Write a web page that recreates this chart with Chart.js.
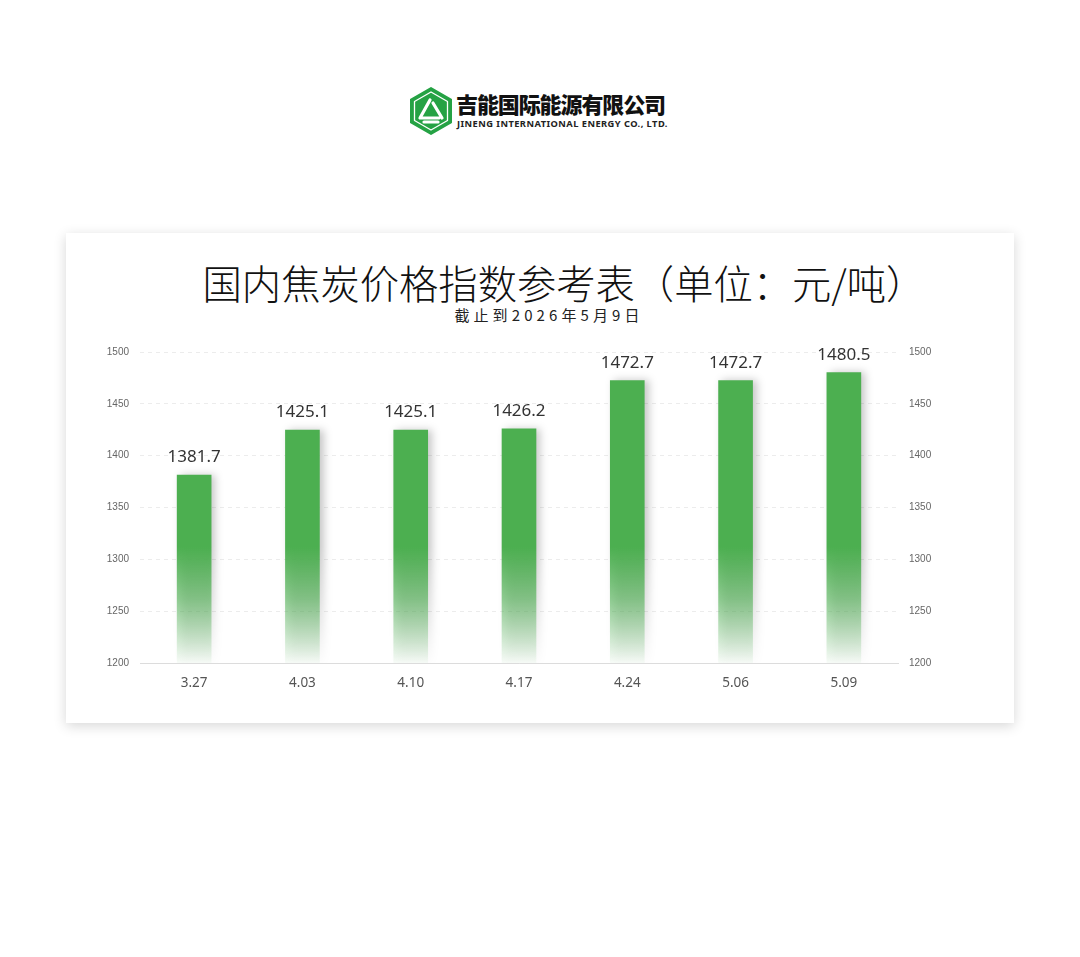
<!DOCTYPE html>
<html>
<head>
<meta charset="utf-8">
<script src="https://cdn.jsdelivr.net/npm/chart.js@4"></script>
<style>
  html, body { margin: 0; padding: 0; background: #fff; }
  body { width: 1080px; height: 957px; position: relative; overflow: hidden; font-family: "Noto Sans CJK SC", "Noto Sans", sans-serif; }
  .logo { position: absolute; left: 409px; top: 87px; width: 270px; height: 50px; }
  .logo svg { position: absolute; left: 0; top: 0; }
  .logo .cn { position: absolute; left: 47px; top: 3px; font-size: 22px; font-weight: 900; color: #111; letter-spacing: -1.1px; line-height: 26px; white-space: nowrap; }
  .logo .en { position: absolute; left: 48px; top: 29.5px; font-family: "Noto Sans", sans-serif; font-size: 9.3px; font-weight: 700; color: #222; letter-spacing: 0.45px; white-space: nowrap; }
  .card { position: absolute; left: 66px; top: 233px; width: 948px; height: 490px; background: #fff; box-shadow: 0 3px 12px rgba(0,0,0,0.16); }
  .title { position: absolute; left: 0; width: 948px; top: 23px; text-align: center; padding-left: 48px; box-sizing: border-box; font-size: 39.3px; font-weight: 300; color: #111; line-height: 52px; white-space: nowrap; }
  .subtitle { position: absolute; left: 0; width: 948px; top: 72px; text-align: center; padding-left: 18px; box-sizing: border-box; font-size: 15px; color: #222; letter-spacing: 4.1px; line-height: 20px; white-space: nowrap; }
  #chartCanvas { position: absolute; left: 0; top: 0; }
</style>
</head>
<body>
<div class="logo">
  <svg width="44" height="48" viewBox="0 0 44 48">
    <polygon points="22,1 42,12.5 42,35.5 22,47 2,35.5 2,12.5" fill="#25a244" stroke="#25a244" stroke-width="2" stroke-linejoin="round"/>
    <polygon points="22,5 38.5,14.5 38.5,33.5 22,43 5.5,33.5 5.5,14.5" fill="none" stroke="#fff" stroke-width="1.3" stroke-linejoin="round"/>
    <path d="M21 13 L11 31 L30 31 M24 16 L33 31 M15 35 L29 35" fill="none" stroke="#fff" stroke-width="3.2" stroke-linecap="round" stroke-linejoin="round"/>
  </svg>
  <div class="cn">吉能国际能源有限公司</div>
  <div class="en">JINENG INTERNATIONAL ENERGY CO., LTD.</div>
</div>
<div class="card">
  <div class="title">国内焦炭价格指数参考表（单位：元/吨）</div>
  <div class="subtitle">截止到2026年5月9日</div>
  <canvas id="chartCanvas" width="948" height="490"></canvas>
</div>
<script>
var dates = ['3.27', '4.03', '4.10', '4.17', '4.24', '5.06', '5.09'];
var prices = [1381.7, 1425.1, 1425.1, 1426.2, 1472.7, 1472.7, 1480.5];
var axisMin = 1200;
var axisMax = 1500;
var axisStep = 50;

var barGreen = '#4caf50';

// Bars fade out towards the bottom of the plot
function barGradient(context) {
    var chart = context.chart;
    var area = chart.chartArea;
    if (!area) return barGreen;
    var yScale = chart.scales.y;
    var solidY = yScale.getPixelForValue(1312);
    var g = chart.ctx.createLinearGradient(0, solidY, 0, area.bottom);
    g.addColorStop(0, 'rgba(76,175,80,1)');
    g.addColorStop(0.45, 'rgba(76,175,80,0.62)');
    g.addColorStop(1, 'rgba(76,175,80,0.04)');
    return g;
}

// Soft shadow on the right side of each bar
var barShadow = {
    id: 'barShadow',
    beforeDatasetsDraw: function(chart) {
        var ctx = chart.ctx;
        ctx.save();
        ctx.shadowColor = 'rgba(0,0,0,0.22)';
        ctx.shadowBlur = 8;
        ctx.shadowOffsetX = 4;
        ctx.shadowOffsetY = 0;
    },
    afterDatasetsDraw: function(chart) {
        chart.ctx.restore();
    }
};

// Value labels above the bars
var valueLabels = {
    id: 'valueLabels',
    afterDatasetsDraw: function(chart) {
        var ctx = chart.ctx;
        var meta = chart.getDatasetMeta(0);
        ctx.save();
        ctx.font = '17px "Noto Sans", sans-serif';
        ctx.fillStyle = '#333';
        ctx.textAlign = 'center';
        ctx.textBaseline = 'bottom';
        meta.data.forEach(function(bar, i) {
            ctx.fillText(prices[i].toFixed(1), bar.x, bar.y - 9);
        });
        ctx.restore();
    }
};

var tickFont = { family: '"Liberation Sans", Arial, sans-serif', size: 10 };
var plainTick = function(value) { return String(value); };

var ctx = document.getElementById('chartCanvas').getContext('2d');
new Chart(ctx, {
    type: 'bar',
    data: {
        labels: dates,
        datasets: [{
            data: prices,
            backgroundColor: barGradient,
            borderWidth: 0,
            barPercentage: 0.32,
            categoryPercentage: 1,
            yAxisID: 'y'
        }]
    },
    options: {
        responsive: false,
        animation: false,
        layout: { padding: { top: 119, bottom: 0, left: 0, right: 0 } },
        plugins: {
            legend: { display: false },
            tooltip: { enabled: false }
        },
        scales: {
            x: {
                grid: { display: false, drawTicks: false },
                border: { display: true, color: '#dcdcdc', width: 1 },
                ticks: { color: '#555', padding: 12, font: { family: '"Noto Sans", sans-serif', size: 13.5 } },
                afterFit: function(scale) { scale.height = 60; }
            },
            y: {
                position: 'left',
                min: axisMin,
                max: axisMax,
                grid: { color: '#ececec', drawTicks: false },
                border: { display: false, dash: [4, 4] },
                ticks: { stepSize: axisStep, color: '#666', padding: 11, font: tickFont, callback: plainTick },
                afterFit: function(scale) { scale.width = 74; }
            },
            y2: {
                position: 'right',
                min: axisMin,
                max: axisMax,
                grid: { display: false, drawTicks: false },
                border: { display: false },
                ticks: { stepSize: axisStep, color: '#666', padding: 11, font: tickFont, callback: plainTick },
                afterFit: function(scale) { scale.width = 116; }
            }
        }
    },
    plugins: [barShadow, valueLabels]
});
</script>
</body>
</html>
